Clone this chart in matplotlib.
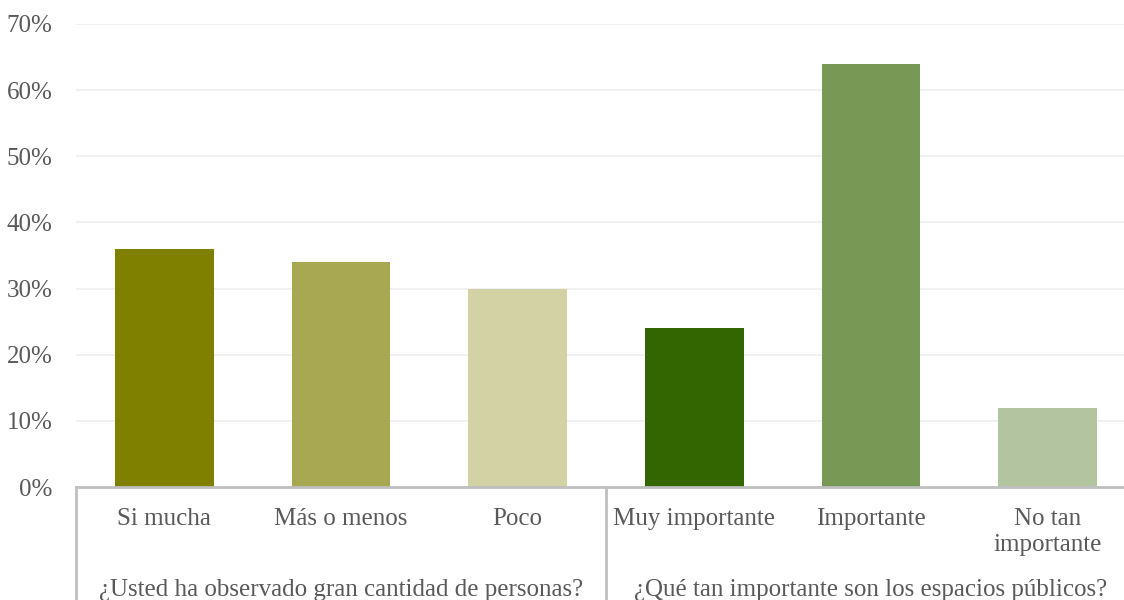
import matplotlib
matplotlib.use("Agg")
import matplotlib.pyplot as plt
from matplotlib.ticker import FuncFormatter

categories = ["Si mucha", "Más o menos", "Poco", "Muy importante", "Importante", "No tan\nimportante"]
values = [36, 34, 30, 24, 64, 12]
groups = ["¿Usted ha observado gran cantidad de personas?", "¿Qué tan importante son los espacios públicos?"]
group_sizes = [3, 3]
colors = ["#808000", "#A8A852", "#D3D2A5", "#336600", "#789956", "#B3C5A0"]
yticks = [0, 10, 20, 30, 40, 50, 60, 70]

plt.rcParams['font.family'] = ['Liberation Serif', 'DejaVu Serif']
txt = "#595959"
fs = 18

fig = plt.figure(figsize=(11.24, 6), dpi=100)
W, H = 1124, 600
x0, x1 = 76, 1136
ybot, ytop = 487, 24
ax = fig.add_axes([x0 / W, (H - ybot) / H, (x1 - x0) / W, (ybot - ytop) / H])

xs = list(range(len(categories)))
ax.bar(xs, values, width=0.56, color=colors, zorder=3)
ax.set_xlim(-0.5, len(categories) - 0.5)
ax.set_ylim(0, 70)
ax.set_yticks(yticks)
ax.yaxis.set_major_formatter(FuncFormatter(lambda v, p: f"{int(v)}%"))
ax.tick_params(axis='y', length=0, pad=17, labelsize=fs, labelcolor=txt)
ax.tick_params(axis='x', length=0, labelbottom=False)
ax.set_xticks([])
ax.grid(axis='y', color="#F0F0F0", linewidth=1.3, zorder=0)
for s in ["top", "right", "left"]:
    ax.spines[s].set_visible(False)
ax.spines["bottom"].set_color("#BFBFBF")
ax.spines["bottom"].set_linewidth(2)
ax.spines["bottom"].set_zorder(4)

tr = ax.get_xaxis_transform()
ph = ybot - ytop
for x, lab in zip(xs, categories):
    ax.text(x, -(508 - ybot) / ph, lab, transform=tr, ha='center', va='top', fontsize=fs,
            color=txt, linespacing=1.22)

# group separators and labels
start = 0
bounds = [-0.5]
for g, n in zip(groups, group_sizes):
    center = start + (n - 1) / 2
    ax.text(center, -(596 - ybot) / ph, g, transform=tr, ha='center', va='baseline',
            fontsize=fs, color=txt)
    start += n
    bounds.append(start - 0.5)
for b in bounds:
    ax.plot([b, b], [0, -0.3], transform=tr, color="#BFBFBF", linewidth=2, clip_on=False, zorder=4)

fig.savefig("out.png", dpi=100)
